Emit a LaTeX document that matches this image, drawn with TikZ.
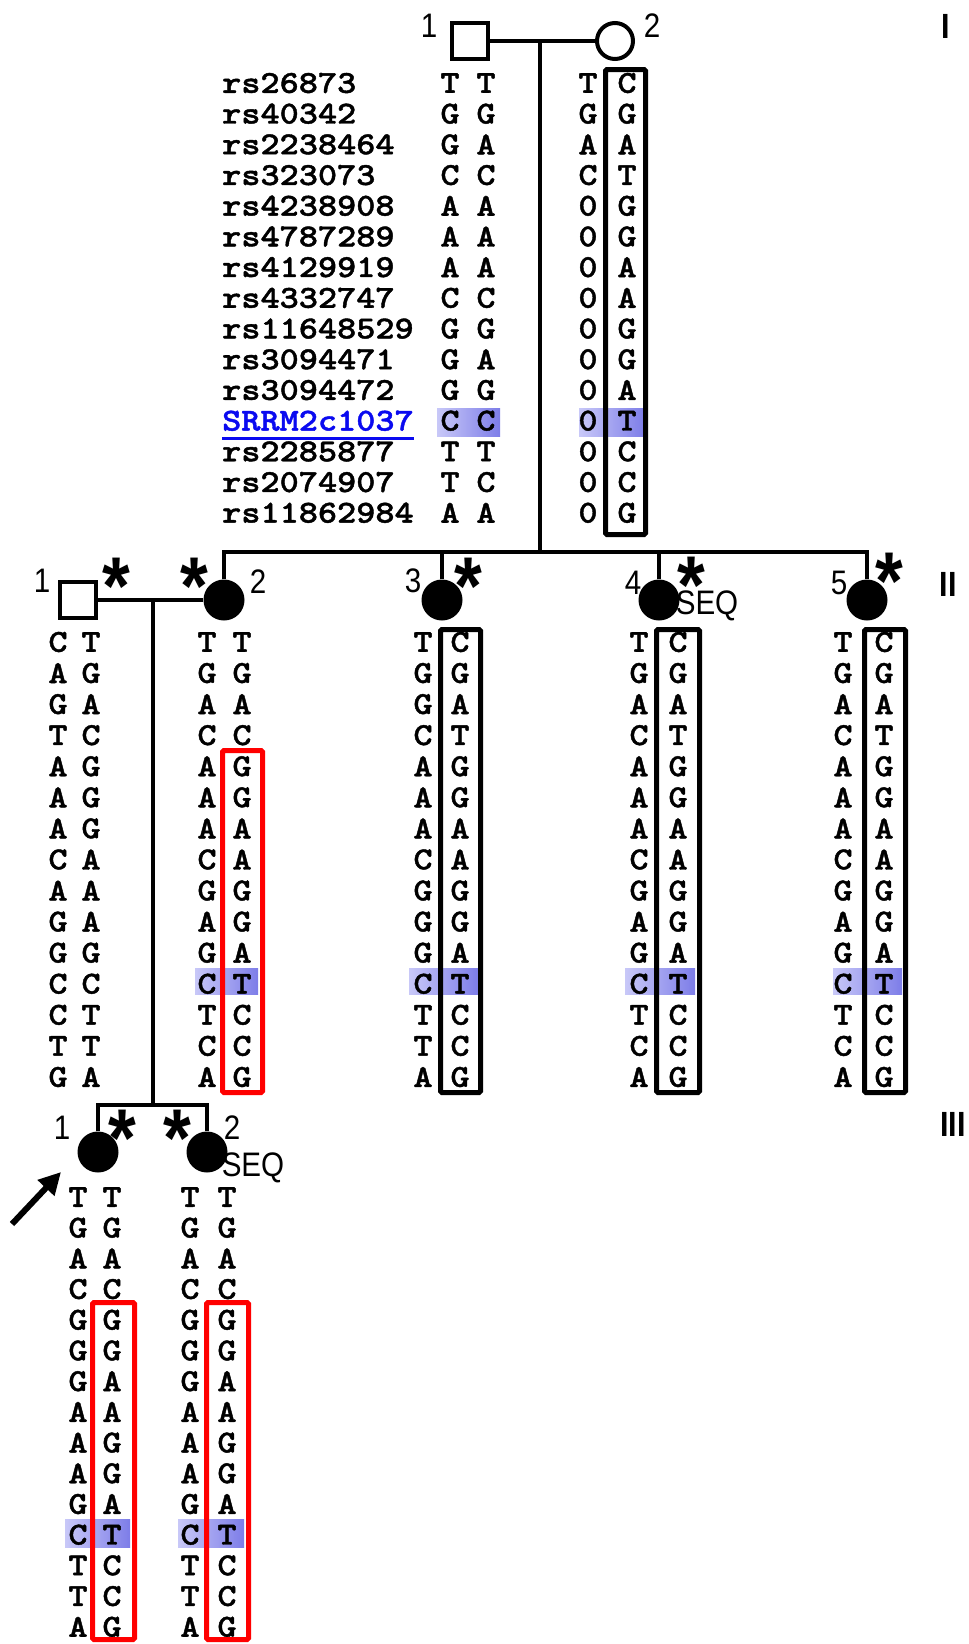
\documentclass[tikz,border=0pt]{standalone}
\usepackage{fontspec}
\usetikzlibrary{arrows.meta}
\newfontfamily\gfont{lmmonolt10-bold}[Extension=.otf, FakeStretch=1.14, FakeBold=1.3]
\newfontfamily\lfont[FakeStretch=0.87]{Liberation Sans}
\definecolor{hlL}{RGB}{200,200,248}
\definecolor{hlR}{RGB}{125,125,232}
\definecolor{linkblue}{RGB}{10,10,240}
\definecolor{boxred}{RGB}{255,0,0}

\tikzset{
  allele/.style={font=\gfont\fontsize{32}{32}\selectfont, inner sep=0pt, anchor=center},
  snp/.style={allele, anchor=west},
  pline/.style={line width=4pt},
  male/.style={rectangle, draw, line width=4pt, minimum size=36pt, inner sep=0pt},
  female/.style={circle, draw, line width=4pt, minimum size=36pt, inner sep=0pt},
  affected/.style={circle, fill=black, minimum size=41pt, inner sep=0pt},
  idlab/.style={font=\lfont\fontsize{34}{34}\selectfont, inner sep=0pt},
  astr/.style={font=\lfont\bfseries\fontsize{82}{82}\selectfont, inner sep=0pt,
    anchor=center, text height=0.72em, text depth=-0.42em},
  genlab/.style={font=\lfont\bfseries\fontsize{35}{35}\selectfont, inner sep=0pt},
  hapbox/.style={draw, line width=5pt, rounded corners=1.5pt},
  redbox/.style={hapbox, draw=boxred},
  hl/.style={left color=hlL, right color=hlR, draw=none},
}

% one column of alleles: name, x, first row y, row step, letters
\newcommand\gcol[5]{%
  \foreach \a [count=\k from 0] in {#5} {
    \node[allele] (#1-\k) at (#2, #3+#4*\k) {\a};
  }%
}

\begin{document}
\begin{tikzpicture}[x=1pt, y=-1pt]
\fill[white] (0,0) rectangle (969,1644);
\useasboundingbox (0,0) rectangle (969,1644);

% ---------- highlighted SRRM2 row ----------
\shade[hl] (437,408) rectangle (500,436);
\shade[hl] (579,408) rectangle (645,436);
\shade[hl] (195,968) rectangle (258,994);
\shade[hl] (409,968) rectangle (478,994);
\shade[hl] (625,968) rectangle (695,994);
\shade[hl] (833,968) rectangle (902,994);
\shade[hl] (65,1519) rectangle (130,1547);
\shade[hl] (178,1519) rectangle (244,1547);

% ---------- marker names ----------
\foreach \m [count=\k from 0] in {rs26873,rs40342,rs2238464,rs323073,rs4238908,rs4787289,rs4129919,rs4332747,rs11648529,rs3094471,rs3094472,{\color{linkblue}SRRM2c1037},rs2285877,rs2074907,rs11862984} {
  \node[snp] (snp-\k) at (222, 83+30.7*\k) {\m};
}
\coordinate (ul) at (0,438);
\draw[linkblue, line width=3pt] (snp-11.west |- ul) -- (snp-11.east |- ul);

% ---------- generation I ----------
\gcol{I1a}{450}{83}{30.7}{T,G,G,C,A,A,A,C,G,G,G,C,T,T,A}
\gcol{I1b}{486}{83}{30.7}{T,G,A,C,A,A,A,C,G,A,G,C,T,C,A}
\gcol{I2a}{588}{83}{30.7}{T,G,A,C,0,0,0,0,0,0,0,0,0,0,0}
\gcol{I2b}{627}{83}{30.7}{C,G,A,T,G,G,A,A,G,G,A,T,C,C,G}

% ---------- generation II ----------
\gcol{II1a}{58}{642}{31.07}{C,A,G,T,A,A,A,C,A,G,G,C,C,T,G}
\gcol{II1b}{91}{642}{31.07}{T,G,A,C,G,G,G,A,A,A,G,C,T,T,A}
\gcol{II2a}{207}{642}{31.07}{T,G,A,C,A,A,A,C,G,A,G,C,T,C,A}
\gcol{II2b}{242}{642}{31.07}{T,G,A,C,G,G,A,A,G,G,A,T,C,C,G}
\gcol{II3a}{423}{642}{31.07}{T,G,G,C,A,A,A,C,G,G,G,C,T,T,A}
\gcol{II3b}{460}{642}{31.07}{C,G,A,T,G,G,A,A,G,G,A,T,C,C,G}
\gcol{II4a}{639}{642}{31.07}{T,G,A,C,A,A,A,C,G,A,G,C,T,C,A}
\gcol{II4b}{678}{642}{31.07}{C,G,A,T,G,G,A,A,G,G,A,T,C,C,G}
\gcol{II5a}{843}{642}{31.07}{T,G,A,C,A,A,A,C,G,A,G,C,T,C,A}
\gcol{II5b}{884}{642}{31.07}{C,G,A,T,G,G,A,A,G,G,A,T,C,C,G}

% ---------- generation III ----------
\gcol{III1a}{78}{1197}{30.7}{T,G,A,C,G,G,G,A,A,A,G,C,T,T,A}
\gcol{III1b}{112}{1197}{30.7}{T,G,A,C,G,G,A,A,G,G,A,T,C,C,G}
\gcol{III2a}{190}{1197}{30.7}{T,G,A,C,G,G,G,A,A,A,G,C,T,T,A}
\gcol{III2b}{227}{1197}{30.7}{T,G,A,C,G,G,A,A,G,G,A,T,C,C,G}

% ---------- haplotype boxes ----------
\draw[hapbox] (605.5,69.5) rectangle (645.5,534.5);
\draw[hapbox] (440.5,629.5) rectangle (480.5,1092.5);
\draw[hapbox] (656.5,629.5) rectangle (699.5,1092.5);
\draw[hapbox] (864.5,629.5) rectangle (905.5,1092.5);
\draw[redbox] (222.5,750.5) rectangle (262.5,1092.5);
\draw[redbox] (92.5,1302.5) rectangle (134.5,1639.5);
\draw[redbox] (206.5,1302.5) rectangle (248.5,1639.5);

% ---------- pedigree symbols ----------
\node[male] (I1) at (470,41) {};
\node[female] (I2) at (615,41) {};
\node[male] (II1) at (78,600) {};
\node[affected] (II2) at (224,600) {};
\node[affected] (II3) at (442,600) {};
\node[affected] (II4) at (659,600) {};
\node[affected] (II5) at (867,600) {};
\node[affected] (III1) at (98,1152) {};
\node[affected] (III2) at (207,1152) {};

% ---------- lines of descent ----------
\coordinate (m1) at (540,41);
\coordinate (s2) at (540,552);
\coordinate (m2) at (153,600);
\coordinate (s3) at (153,1105);
\draw[pline] (I1) -- (I2);
\draw[pline] (m1) -- (s2);
\draw[pline] (II2.north) -- (II2.north |- s2) -- (II5.north |- s2) -- (II5.north);
\draw[pline] (II3.north) -- (II3.north |- s2);
\draw[pline] (II4.north) -- (II4.north |- s2);
\draw[pline] (II1) -- (II2);
\draw[pline] (m2) -- (s3);
\draw[pline] (III1.north) -- (III1.north |- s3) -- (III2.north |- s3) -- (III2.north);

% ---------- proband arrow ----------
\coordinate (arrT) at (12,1224);
\coordinate (arrH) at (61,1172);
\draw[line width=6pt, -{Triangle[length=22pt,width=22pt]}] (arrT) -- (arrH);

% ---------- individual numbers ----------
\node[idlab] (nI1) at (429,26) {1};
\node[idlab] (nI2) at (652,26) {2};
\node[idlab] (nII1) at (42,581) {1};
\node[idlab] (nII2) at (258,582) {2};
\node[idlab] (nII3) at (413,581) {3};
\node[idlab] (nII4) at (633,583) {4};
\node[idlab] (nII5) at (839,583) {5};
\node[idlab] (nIII1) at (62,1128) {1};
\node[idlab] (nIII2) at (232,1128) {2};
\node[idlab] (seqII4) at (707,606) {SEQ};
\node[idlab] (seqIII2) at (253,1168) {SEQ};

% ---------- asterisks ----------
\node[astr] (aII1) at (116,611) {*};
\node[astr] (aII2) at (194,611) {*};
\node[astr] (aII3) at (468,611) {*};
\node[astr] (aII4) at (691,610) {*};
\node[astr] (aII5) at (889,606) {*};
\node[astr] (aIII1) at (122,1163) {*};
\node[astr] (aIII2) at (177,1163) {*};

% ---------- generation numerals ----------
\node[genlab] (gI) at (946,26) {I};
\node[genlab] (gII) at (948,584) {II};
\node[genlab] (gIII) at (953,1124) {III};
\end{tikzpicture}
\end{document}
